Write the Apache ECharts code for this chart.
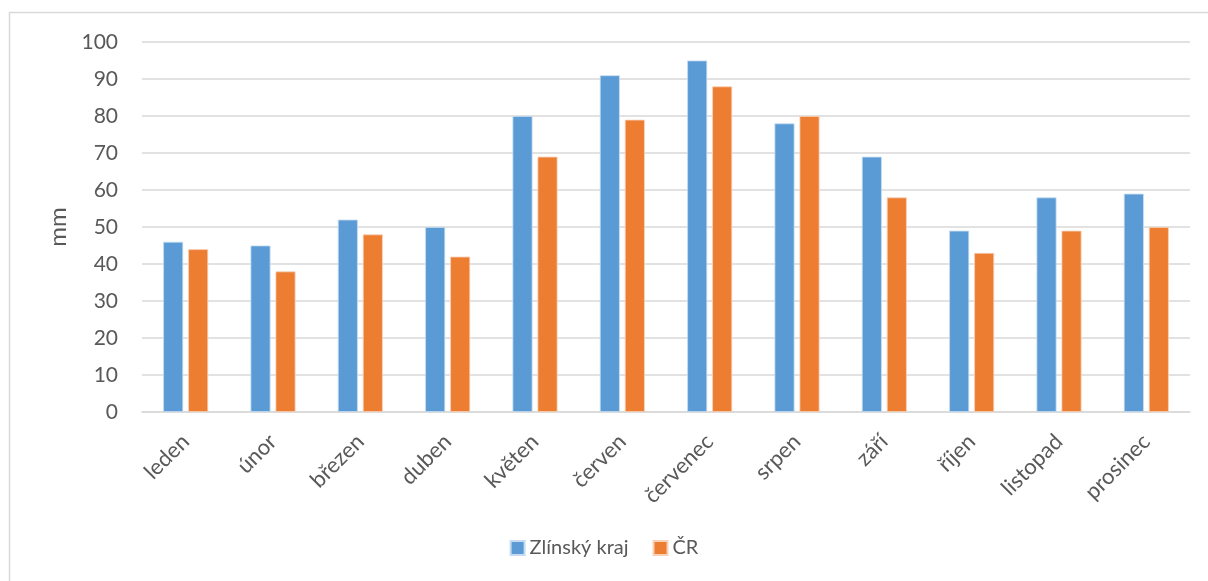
<!DOCTYPE html>
<html>
<head>
<meta charset="utf-8">
<script src="https://cdn.jsdelivr.net/npm/echarts@6/dist/echarts.min.js"></script>
<style>html,body{margin:0;padding:0;background:#fff}#c{width:1208px;height:581px}</style>
</head>
<body>
<div id="c"></div>
<script>
const categories = ['leden','únor','březen','duben','květen','červen','červenec','srpen','září','říjen','listopad','prosinec'];
const zlinskyKraj = [46,45,52,50,80,91,95,78,69,49,58,59];
const cr = [44,38,48,42,69,79,88,80,58,43,49,50];
const seriesNames = ['Zlínský kraj','ČR'];

const FONT = 'Lato, "Open Sans", sans-serif';
const chart = echarts.init(document.getElementById('c'));
chart.setOption({
  animation: false,
  textStyle: {fontFamily: FONT},
  graphic: [{
    type: 'rect', silent: true,
    shape: {x: 9.5, y: 12.5, width: 1250, height: 650},
    style: {fill: 'none', stroke: '#d9d9d9', lineWidth: 1.5}
  }],
  grid: {left: 142, right: 18, top: 42, bottom: 169, containLabel: false},
  legend: {
    bottom: 18, left: 'center',
    itemWidth: 14, itemHeight: 14, itemGap: 24,
    icon: 'rect',
    textStyle: {fontFamily: FONT, fontSize: 20, color: '#595959'},
    data: seriesNames
  },
  xAxis: {
    type: 'category', data: categories,
    axisLine: {lineStyle: {color: '#d9d9d9', width: 1.5}},
    axisTick: {show: false},
    axisLabel: {rotate: 45, fontFamily: FONT, fontSize: 22, color: '#595959', margin: 26, interval: 0}
  },
  yAxis: {
    type: 'value', min: 0, max: 100, interval: 10,
    name: 'mm', nameLocation: 'middle', nameGap: 68, nameRotate: 90,
    nameTextStyle: {fontFamily: FONT, fontSize: 24, color: '#595959'},
    axisLine: {show: false}, axisTick: {show: false},
    axisLabel: {fontFamily: FONT, fontSize: 21, color: '#595959', margin: 24},
    splitLine: {lineStyle: {color: '#d9d9d9', width: 1.5}}
  },
  series: [
    {name: seriesNames[0], type: 'bar', data: zlinskyKraj, barWidth: 20, barGap: '25%',
     itemStyle: {color: '#5b9bd5', borderColor: '#c5dcf0', borderWidth: 0.8}},
    {name: seriesNames[1], type: 'bar', data: cr, barWidth: 20, barGap: '25%',
     itemStyle: {color: '#ed7d31', borderColor: '#f8d2b8', borderWidth: 0.8}}
  ]
});
</script>
</body>
</html>
